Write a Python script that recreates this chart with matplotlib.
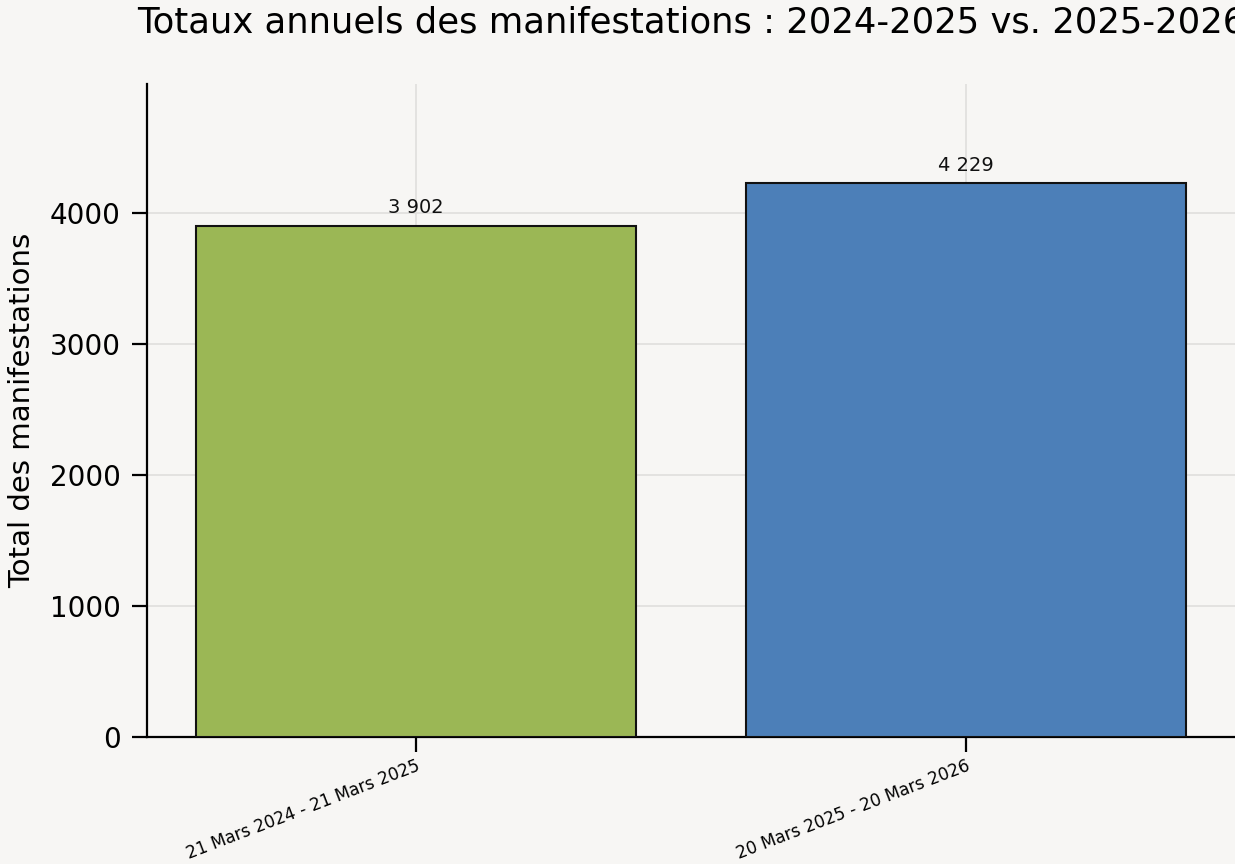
import matplotlib
matplotlib.use("Agg")
import matplotlib.pyplot as plt

periods = ["21 Mars 2024 - 21 Mars 2025", "20 Mars 2025 - 20 Mars 2026"]
totals = [3902, 4229]
colors = ["#9bb755", "#4c7fb8"]
title = "Totaux annuels des manifestations : 2024-2025 vs. 2025-2026"


def fmt_int(v):
    return f"{v:,}".replace(",", " ")


def main():
    bg = "#f7f6f4"
    fig = plt.figure(figsize=(12.35, 8.64), dpi=100, facecolor=bg)
    ax = fig.add_axes([0.119, 0.147, 0.881, 0.756], facecolor=bg)

    x = list(range(len(periods)))
    bars = ax.bar(x, totals, width=0.8, color=colors, edgecolor="#111111",
                  linewidth=1.5, zorder=3)
    for rect, v in zip(bars, totals):
        ax.annotate(fmt_int(v), (rect.get_x() + rect.get_width() / 2, v),
                    xytext=(0, 6), textcoords="offset points",
                    ha="center", va="bottom", fontsize=14, color="#111111")

    ax.set_xlim(-0.49, 1.49)
    ax.set_ylim(0, 4985)
    ax.set_yticks([0, 1000, 2000, 3000, 4000])
    ax.set_xticks(x)
    ax.set_xticklabels(periods, rotation=21, ha="right",
                       rotation_mode="anchor", fontsize=12.2)
    ax.tick_params(axis="y", labelsize=20, length=11, width=1.6, pad=8)
    ax.tick_params(axis="x", length=11, width=1.6, pad=3)

    ax.grid(True, color="#e0dfdd", linewidth=1.2, zorder=0)
    ax.set_axisbelow(True)
    for side in ("top", "right"):
        ax.spines[side].set_visible(False)
    for side in ("left", "bottom"):
        ax.spines[side].set_linewidth(1.6)

    ax.set_ylabel("Total des manifestations", fontsize=21, labelpad=10)
    # title is wider than the figure in the reference too, so it runs off the right edge
    ax.set_title(title, fontsize=25.5, pad=37, loc="center")

    fig.savefig("out.png", dpi=100, facecolor=bg)
    plt.close(fig)


if __name__ == "__main__":
    main()
